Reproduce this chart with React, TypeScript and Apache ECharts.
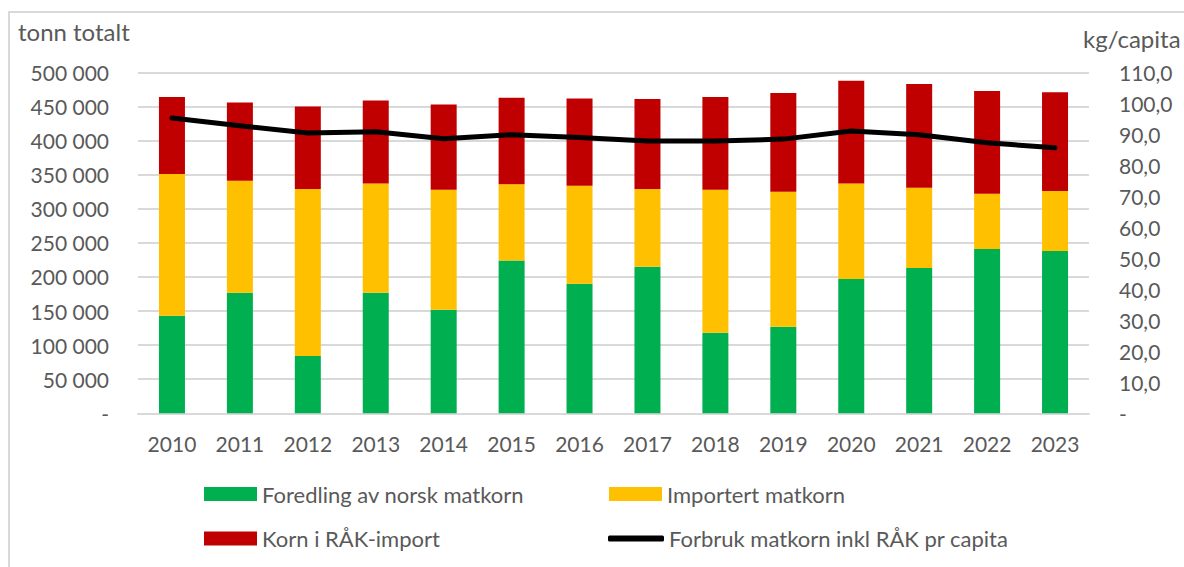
import React, { useEffect, useRef } from "react";
import * as echarts from "echarts";

const years = ["2010", "2011", "2012", "2013", "2014", "2015", "2016", "2017", "2018", "2019", "2020", "2021", "2022", "2023"];
const norsk = [143000, 177000, 84000, 177000, 152000, 224000, 190000, 215000, 118000, 127000, 197000, 213000, 241000, 238000];
const importert = [208000, 164000, 245000, 160000, 176000, 112000, 144000, 114000, 210000, 198000, 140000, 118000, 81000, 88000];
const raak = [113000, 115000, 121000, 122000, 125000, 127000, 128000, 132000, 136000, 145000, 151000, 152000, 151000, 145000];
const perCapita = [95.3, 92.8, 90.5, 90.9, 88.6, 89.9, 89.0, 87.9, 87.9, 88.5, 91.1, 89.9, 87.3, 85.7];

const seriesNames = [
  "Foredling av norsk matkorn",
  "Importert matkorn",
  "Korn i RÅK-import",
  "Forbruk matkorn inkl RÅK pr capita",
];
const leftTitle = "tonn totalt";
const rightTitle = "kg/capita";

const FONT = "Lato";
const TEXT = "#595959";
const GRID = "#d9d9d9";

export default function App() {
  const ref = useRef<HTMLDivElement>(null);
  useEffect(() => {
    if (!ref.current) return;
    const chart = echarts.init(ref.current, undefined, { renderer: "svg" });
    const legendText = { color: TEXT, fontSize: 22, fontFamily: FONT, lineHeight: 24 };
    const mkLegend = (name: string, left: number, top: number, line = false) => ({
      data: [name],
      left,
      top,
      padding: 0,
      itemWidth: line ? 56 : 53,
      itemHeight: line ? 6 : 14,
      itemGap: 0,
      icon: line ? "roundRect" : "rect",
      textStyle: legendText,
      selectedMode: false,
    });
    chart.setOption({
      animation: false,
      textStyle: { fontFamily: FONT },
      grid: { left: 138, right: 95, top: 72.5, bottom: 153.7 },
      graphic: [
        {
          type: "rect",
          shape: { x: 9, y: 12, width: 1400, height: 800 },
          style: { fill: "none", stroke: GRID, lineWidth: 2 },
          silent: true,
        },
        {
          type: "text",
          left: 18,
          top: 19,
          style: { text: leftTitle, fill: TEXT, fontSize: 24, fontFamily: FONT },
        },
        {
          type: "text",
          left: 1083,
          top: 26,
          style: { text: rightTitle, fill: TEXT, fontSize: 24, fontFamily: FONT },
        },
      ],
      legend: [
        mkLegend(seriesNames[0], 204, 482),
        mkLegend(seriesNames[1], 609, 482),
        mkLegend(seriesNames[2], 204, 526.5),
        mkLegend(seriesNames[3], 608, 526.5, true),
      ],
      xAxis: {
        type: "category",
        data: years,
        axisTick: { show: false },
        axisLine: { lineStyle: { color: GRID, width: 2 } },
        axisLabel: { color: TEXT, fontSize: 21, fontFamily: FONT, margin: 20 },
      },
      yAxis: [
        {
          type: "value",
          min: 0,
          max: 500000,
          interval: 50000,
          axisLine: { show: false },
          axisTick: { show: false },
          splitLine: { lineStyle: { color: GRID, width: 2 } },
          axisLabel: {
            color: TEXT,
            fontSize: 21,
            fontFamily: FONT,
            margin: 29,
            formatter: (v: number) =>
              v === 0 ? "-" : String(v).replace(/\B(?=(\d{3})+(?!\d))/g, " "),
          },
        },
        {
          type: "value",
          min: 0,
          max: 110,
          interval: 10,
          position: "right",
          axisLine: { show: false },
          axisTick: { show: false },
          splitLine: { show: false },
          axisLabel: {
            color: TEXT,
            fontSize: 21,
            fontFamily: FONT,
            margin: 30,
            formatter: (v: number) => (v === 0 ? "-" : v.toFixed(1).replace(".", ",")),
          },
        },
      ],
      series: [
        {
          name: seriesNames[0],
          type: "bar",
          stack: "total",
          barWidth: 26,
          data: norsk,
          itemStyle: { color: "#00B050" },
        },
        {
          name: seriesNames[1],
          type: "bar",
          stack: "total",
          barWidth: 26,
          data: importert,
          itemStyle: { color: "#FFC000" },
        },
        {
          name: seriesNames[2],
          type: "bar",
          stack: "total",
          barWidth: 26,
          data: raak,
          itemStyle: { color: "#C00000" },
        },
        {
          name: seriesNames[3],
          type: "line",
          yAxisIndex: 1,
          data: perCapita,
          symbol: "none",
          itemStyle: { color: "#000000" },
          lineStyle: { color: "#000000", width: 5, cap: "round", join: "round" },
          z: 5,
        },
      ],
    });
    return () => chart.dispose();
  }, []);
  return (
    <div
      ref={ref}
      style={{ position: "fixed", left: 0, top: 0, width: 1184, height: 567, background: "#fff" }}
    />
  );
}
